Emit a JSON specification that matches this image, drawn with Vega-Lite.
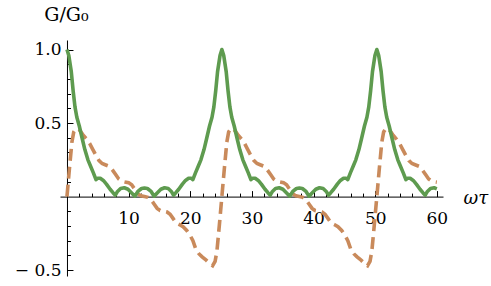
{
"$schema": "https://vega.github.io/schema/vega-lite/v6.json",
"width": 383, "height": 236,
"autosize": {"type": "none"},
"padding": {"left": 60, "top": 40, "right": 48, "bottom": 10},
"background": "white",
"config": {"view": {"stroke": null}, "axis": {"grid": false, "labelFont": "DejaVu Serif", "labelFontSize": 17, "labelColor": "black", "titleFont": "DejaVu Serif", "titleFontSize": 18, "titleFontWeight": "normal", "titleColor": "black", "domainColor": "black", "tickColor": "black", "domainWidth": 1, "tickWidth": 1}},
"data": {"values": [
{"s":"g","x":0,"y":1.0},{"s":"g","x":0.3,"y":0.96},{"s":"g","x":0.7,"y":0.85},{"s":"g","x":1.0,"y":0.72},{"s":"g","x":1.3,"y":0.61},{"s":"g","x":1.6,"y":0.54},{"s":"g","x":2.0,"y":0.48},{"s":"g","x":2.5,"y":0.39},{"s":"g","x":2.9,"y":0.32},{"s":"g","x":3.4,"y":0.25},{"s":"g","x":3.8,"y":0.21},{"s":"g","x":4.3,"y":0.16},{"s":"g","x":4.71,"y":0.115},{"s":"g","x":5.0,"y":0.125},{"s":"g","x":5.4,"y":0.125},{"s":"g","x":5.9,"y":0.11},{"s":"g","x":6.4,"y":0.085},{"s":"g","x":7.0,"y":0.05},{"s":"g","x":7.5,"y":0.025},{"s":"g","x":7.85,"y":0.01},{"s":"g","x":8.2,"y":0.035},{"s":"g","x":8.7,"y":0.055},{"s":"g","x":9.3,"y":0.06},{"s":"g","x":9.9,"y":0.05},{"s":"g","x":10.5,"y":0.025},{"s":"g","x":11.0,"y":0.003},{"s":"g","x":11.5,"y":0.035},{"s":"g","x":12.1,"y":0.055},{"s":"g","x":12.57,"y":0.058},{"s":"g","x":13.05,"y":0.055},{"s":"g","x":13.65,"y":0.035},{"s":"g","x":14.14,"y":0.003},{"s":"g","x":14.63,"y":0.025},{"s":"g","x":15.23,"y":0.05},{"s":"g","x":15.83,"y":0.06},{"s":"g","x":16.43,"y":0.055},{"s":"g","x":16.93,"y":0.035},{"s":"g","x":17.28,"y":0.01},{"s":"g","x":17.63,"y":0.025},{"s":"g","x":18.13,"y":0.05},{"s":"g","x":18.73,"y":0.085},{"s":"g","x":19.23,"y":0.11},{"s":"g","x":19.73,"y":0.125},{"s":"g","x":20.13,"y":0.125},{"s":"g","x":20.42,"y":0.115},{"s":"g","x":20.83,"y":0.16},{"s":"g","x":21.33,"y":0.21},{"s":"g","x":21.73,"y":0.25},{"s":"g","x":22.23,"y":0.32},{"s":"g","x":22.63,"y":0.39},{"s":"g","x":23.13,"y":0.48},{"s":"g","x":23.53,"y":0.54},{"s":"g","x":23.83,"y":0.61},{"s":"g","x":24.13,"y":0.72},{"s":"g","x":24.43,"y":0.85},{"s":"g","x":24.83,"y":0.96},{"s":"g","x":25.13,"y":1.0},
{"s":"g","x":25.43,"y":0.96},{"s":"g","x":25.83,"y":0.85},{"s":"g","x":26.13,"y":0.72},{"s":"g","x":26.43,"y":0.61},{"s":"g","x":26.73,"y":0.54},{"s":"g","x":27.13,"y":0.48},{"s":"g","x":27.63,"y":0.39},{"s":"g","x":28.03,"y":0.32},{"s":"g","x":28.53,"y":0.25},{"s":"g","x":28.93,"y":0.21},{"s":"g","x":29.43,"y":0.16},{"s":"g","x":29.84,"y":0.115},{"s":"g","x":30.13,"y":0.125},{"s":"g","x":30.53,"y":0.125},{"s":"g","x":31.03,"y":0.11},{"s":"g","x":31.53,"y":0.085},{"s":"g","x":32.13,"y":0.05},{"s":"g","x":32.63,"y":0.025},{"s":"g","x":32.98,"y":0.01},{"s":"g","x":33.33,"y":0.035},{"s":"g","x":33.83,"y":0.055},{"s":"g","x":34.43,"y":0.06},{"s":"g","x":35.03,"y":0.05},{"s":"g","x":35.63,"y":0.025},{"s":"g","x":36.13,"y":0.003},{"s":"g","x":36.63,"y":0.035},{"s":"g","x":37.23,"y":0.055},{"s":"g","x":37.7,"y":0.058},{"s":"g","x":38.18,"y":0.055},{"s":"g","x":38.78,"y":0.035},{"s":"g","x":39.27,"y":0.003},{"s":"g","x":39.76,"y":0.025},{"s":"g","x":40.36,"y":0.05},{"s":"g","x":40.96,"y":0.06},{"s":"g","x":41.56,"y":0.055},{"s":"g","x":42.06,"y":0.035},{"s":"g","x":42.41,"y":0.01},{"s":"g","x":42.76,"y":0.025},{"s":"g","x":43.26,"y":0.05},{"s":"g","x":43.86,"y":0.085},{"s":"g","x":44.36,"y":0.11},{"s":"g","x":44.86,"y":0.125},{"s":"g","x":45.26,"y":0.125},{"s":"g","x":45.55,"y":0.115},{"s":"g","x":45.96,"y":0.16},{"s":"g","x":46.46,"y":0.21},{"s":"g","x":46.86,"y":0.25},{"s":"g","x":47.36,"y":0.32},{"s":"g","x":47.76,"y":0.39},{"s":"g","x":48.26,"y":0.48},{"s":"g","x":48.66,"y":0.54},{"s":"g","x":48.96,"y":0.61},{"s":"g","x":49.26,"y":0.72},{"s":"g","x":49.56,"y":0.85},{"s":"g","x":49.96,"y":0.96},{"s":"g","x":50.27,"y":1.0},
{"s":"g","x":50.57,"y":0.96},{"s":"g","x":50.97,"y":0.85},{"s":"g","x":51.27,"y":0.72},{"s":"g","x":51.57,"y":0.61},{"s":"g","x":51.87,"y":0.54},{"s":"g","x":52.27,"y":0.48},{"s":"g","x":52.77,"y":0.39},{"s":"g","x":53.17,"y":0.32},{"s":"g","x":53.67,"y":0.25},{"s":"g","x":54.07,"y":0.21},{"s":"g","x":54.57,"y":0.16},{"s":"g","x":54.98,"y":0.115},{"s":"g","x":55.27,"y":0.125},{"s":"g","x":55.67,"y":0.125},{"s":"g","x":56.17,"y":0.11},{"s":"g","x":56.67,"y":0.085},{"s":"g","x":57.27,"y":0.05},{"s":"g","x":57.77,"y":0.025},{"s":"g","x":58.12,"y":0.01},{"s":"g","x":58.47,"y":0.035},{"s":"g","x":58.97,"y":0.055},{"s":"g","x":59.57,"y":0.06},{"s":"g","x":60.0,"y":0.053},
{"s":"o","x":0,"y":0},{"s":"o","x":0.4,"y":0.19},{"s":"o","x":0.8,"y":0.37},{"s":"o","x":1.1,"y":0.44},{"s":"o","x":1.5,"y":0.465},{"s":"o","x":2.0,"y":0.455},{"s":"o","x":2.6,"y":0.42},{"s":"o","x":3.2,"y":0.39},{"s":"o","x":3.7,"y":0.36},{"s":"o","x":4.2,"y":0.32},{"s":"o","x":4.7,"y":0.28},{"s":"o","x":5.2,"y":0.245},{"s":"o","x":5.7,"y":0.225},{"s":"o","x":6.3,"y":0.215},{"s":"o","x":6.9,"y":0.205},{"s":"o","x":7.4,"y":0.18},{"s":"o","x":7.9,"y":0.15},{"s":"o","x":8.4,"y":0.12},{"s":"o","x":8.9,"y":0.105},{"s":"o","x":9.4,"y":0.1},{"s":"o","x":10.0,"y":0.095},{"s":"o","x":10.5,"y":0.08},{"s":"o","x":11.0,"y":0.05},{"s":"o","x":11.5,"y":0.02},{"s":"o","x":12.0,"y":0.005},{"s":"o","x":12.57,"y":0},{"s":"o","x":13.13,"y":-0.005},{"s":"o","x":13.63,"y":-0.02},{"s":"o","x":14.13,"y":-0.05},{"s":"o","x":14.63,"y":-0.08},{"s":"o","x":15.13,"y":-0.095},{"s":"o","x":15.73,"y":-0.1},{"s":"o","x":16.23,"y":-0.105},{"s":"o","x":16.73,"y":-0.12},{"s":"o","x":17.23,"y":-0.15},{"s":"o","x":17.73,"y":-0.18},{"s":"o","x":18.23,"y":-0.19},{"s":"o","x":18.83,"y":-0.205},{"s":"o","x":19.43,"y":-0.23},{"s":"o","x":19.93,"y":-0.26},{"s":"o","x":20.43,"y":-0.3},{"s":"o","x":20.93,"y":-0.36},{"s":"o","x":21.43,"y":-0.39},{"s":"o","x":21.93,"y":-0.41},{"s":"o","x":22.53,"y":-0.43},{"s":"o","x":23.13,"y":-0.455},{"s":"o","x":23.63,"y":-0.47},{"s":"o","x":24.03,"y":-0.44},{"s":"o","x":24.33,"y":-0.37},{"s":"o","x":24.73,"y":-0.19},{"s":"o","x":25.13,"y":0},
{"s":"o","x":25.53,"y":0.19},{"s":"o","x":25.93,"y":0.37},{"s":"o","x":26.23,"y":0.44},{"s":"o","x":26.63,"y":0.465},{"s":"o","x":27.13,"y":0.455},{"s":"o","x":27.73,"y":0.42},{"s":"o","x":28.33,"y":0.39},{"s":"o","x":28.83,"y":0.36},{"s":"o","x":29.33,"y":0.32},{"s":"o","x":29.83,"y":0.28},{"s":"o","x":30.33,"y":0.245},{"s":"o","x":30.83,"y":0.225},{"s":"o","x":31.43,"y":0.215},{"s":"o","x":32.03,"y":0.205},{"s":"o","x":32.53,"y":0.18},{"s":"o","x":33.03,"y":0.15},{"s":"o","x":33.53,"y":0.12},{"s":"o","x":34.03,"y":0.105},{"s":"o","x":34.53,"y":0.1},{"s":"o","x":35.13,"y":0.095},{"s":"o","x":35.63,"y":0.08},{"s":"o","x":36.13,"y":0.05},{"s":"o","x":36.63,"y":0.02},{"s":"o","x":37.13,"y":0.005},{"s":"o","x":37.7,"y":0},{"s":"o","x":38.26,"y":-0.005},{"s":"o","x":38.76,"y":-0.02},{"s":"o","x":39.26,"y":-0.05},{"s":"o","x":39.76,"y":-0.08},{"s":"o","x":40.26,"y":-0.095},{"s":"o","x":40.86,"y":-0.1},{"s":"o","x":41.36,"y":-0.105},{"s":"o","x":41.86,"y":-0.12},{"s":"o","x":42.36,"y":-0.15},{"s":"o","x":42.86,"y":-0.18},{"s":"o","x":43.36,"y":-0.19},{"s":"o","x":43.96,"y":-0.205},{"s":"o","x":44.56,"y":-0.23},{"s":"o","x":45.06,"y":-0.26},{"s":"o","x":45.56,"y":-0.3},{"s":"o","x":46.06,"y":-0.36},{"s":"o","x":46.56,"y":-0.39},{"s":"o","x":47.06,"y":-0.41},{"s":"o","x":47.66,"y":-0.43},{"s":"o","x":48.26,"y":-0.455},{"s":"o","x":48.76,"y":-0.47},{"s":"o","x":49.16,"y":-0.44},{"s":"o","x":49.46,"y":-0.37},{"s":"o","x":49.86,"y":-0.19},{"s":"o","x":50.27,"y":0},
{"s":"o","x":50.67,"y":0.19},{"s":"o","x":51.07,"y":0.37},{"s":"o","x":51.37,"y":0.44},{"s":"o","x":51.77,"y":0.465},{"s":"o","x":52.27,"y":0.455},{"s":"o","x":52.87,"y":0.42},{"s":"o","x":53.47,"y":0.39},{"s":"o","x":53.97,"y":0.36},{"s":"o","x":54.47,"y":0.32},{"s":"o","x":54.97,"y":0.28},{"s":"o","x":55.47,"y":0.245},{"s":"o","x":55.97,"y":0.225},{"s":"o","x":56.57,"y":0.215},{"s":"o","x":57.17,"y":0.205},{"s":"o","x":57.67,"y":0.18},{"s":"o","x":58.17,"y":0.15},{"s":"o","x":58.67,"y":0.12},{"s":"o","x":59.17,"y":0.105},{"s":"o","x":59.67,"y":0.1},{"s":"o","x":60.0,"y":0.098}
]},
"layer": [
{"transform": [{"filter": "datum.s === 'o'"}],
 "mark": {"type": "line", "color": "#C98A5B", "strokeWidth": 3.6, "strokeDash": [12, 6], "strokeCap": "butt"},
 "encoding": {
  "x": {"field": "x", "type": "quantitative", "scale": {"domain": [-1.13, 61.0], "nice": false, "zero": false},
        "axis": {"orient": "bottom", "offset": -79.4, "values": [10,20,30,40,50,60], "tickSize": -6, "labelPadding": 20, "format": "d", "labelFlush": false, "labelOverlap": false, "title": "ωτ", "titleAngle": 0, "titleX": 403, "titleY": 2, "titleAlign": "left", "titleBaseline": "middle", "titleFontStyle": "italic"}},
  "y": {"field": "y", "type": "quantitative", "scale": {"domain": [-0.54, 1.065], "nice": false, "zero": false},
        "axis": {"orient": "left", "offset": -6.97, "values": [-0.5, 0.5, 1.0], "tickSize": -6, "labelPadding": 12, "labelExpr": "datum.value < 0 ? '− ' + format(-datum.value, '.1f') : format(datum.value, '.1f')", "labelFlush": false, "labelOverlap": false, "title": "G/G₀", "titleFontSize": 19, "titleAngle": 0, "titleX": -1, "titleY": -26, "titleAlign": "center", "titleBaseline": "middle"}}
 }},
{"transform": [{"filter": "datum.s === 'g'"}],
 "mark": {"type": "line", "color": "#5E9B4F", "strokeWidth": 3.6, "strokeJoin": "round"},
 "encoding": {
  "x": {"field": "x", "type": "quantitative",
        "axis": {"orient": "bottom", "offset": -79.4, "values": [2,4,6,8,12,14,16,18,22,24,26,28,32,34,36,38,42,44,46,48,52,54,56,58], "tickSize": -3.5, "labels": false, "domain": false, "title": null}},
  "y": {"field": "y", "type": "quantitative",
        "axis": {"orient": "left", "offset": -6.97, "values": [-0.4,-0.3,-0.2,-0.1,0.1,0.2,0.3,0.4,0.6,0.7,0.8,0.9], "tickSize": -3.5, "labels": false, "domain": false, "title": null}}
 }}
],
"resolve": {"axis": {"x": "independent", "y": "independent"}}
}
